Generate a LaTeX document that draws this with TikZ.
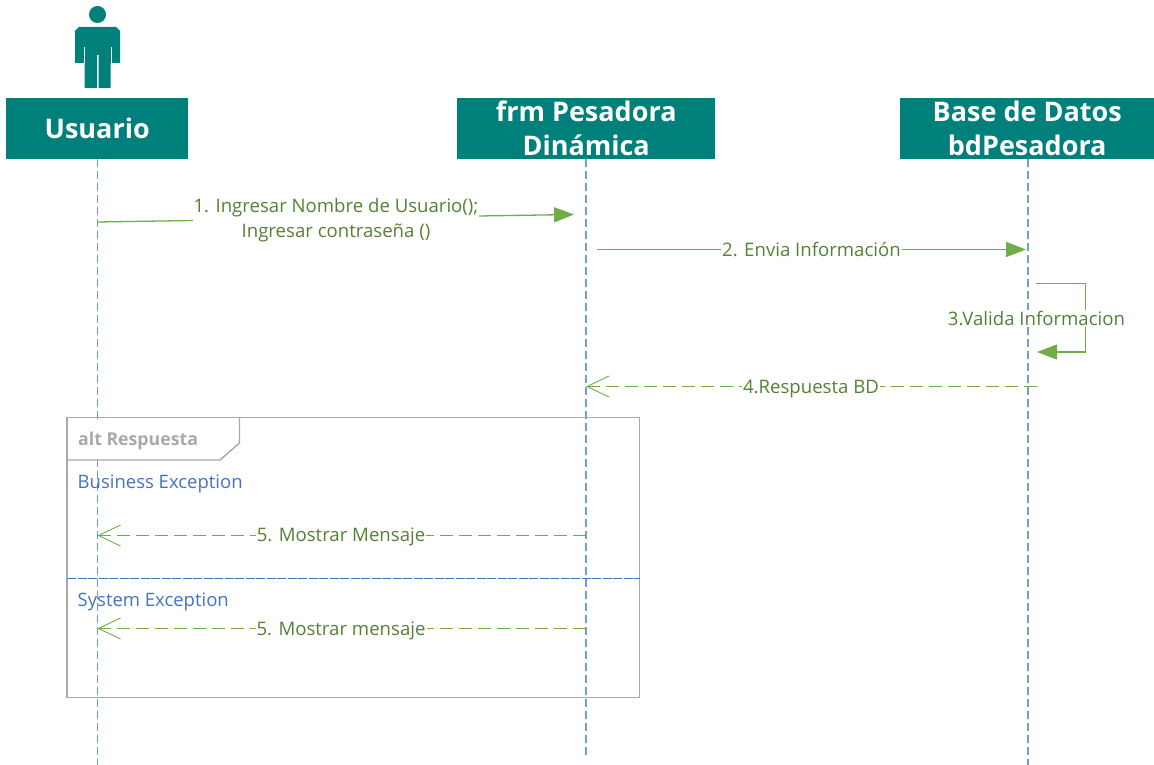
\documentclass[tikz,border=0pt]{standalone}
\usepackage{fontspec}
\setmainfont{Open Sans}
\usetikzlibrary{arrows.meta}
\definecolor{teal1}{HTML}{00807A}
\definecolor{green1}{HTML}{70AD47}
\definecolor{green2}{HTML}{548235}
\definecolor{blue1}{HTML}{4472C4}
\definecolor{life}{HTML}{6C9FD6}
\definecolor{frameg}{HTML}{A9A9A9}
\tikzset{
  head/.style={fill=teal1,text=white,font=\bfseries\fontsize{27}{34}\selectfont,align=center,inner sep=0pt,anchor=north west},
  lifeline/.style={life,line width=1.5pt,dash pattern=on 8pt off 4pt},
  msg/.style={green1,line width=1.3pt,-{Triangle[length=20pt,width=15pt,fill=green1]}},
  reply/.style={green1,line width=1.3pt,dash pattern=on 13pt off 6pt,-{Straight Barb[length=22pt,width=21pt,line width=.9pt]}},
  lab/.style={fill=white,text=green2,font=\fontsize{18.6}{25}\selectfont,inner sep=1pt,align=center},
  frame/.style={frameg,line width=1.4pt},
  cond/.style={text=blue1,font=\fontsize{18.5}{20}\selectfont,anchor=west,inner sep=0pt},
}
\begin{document}
\begin{tikzpicture}[x=1pt,y=-1pt]
\useasboundingbox (0,0) rectangle (1154,765);
% actor
\fill[teal1] (97.5,14.5) circle (8.5);
\fill[teal1] (79,27) -- (116,27) -- (120,31) -- (120,63) -- (110.5,63) -- (110.5,88) -- (98.5,88) -- (98.5,55) -- (97,55) -- (97,88) -- (84.5,88) -- (84.5,63) -- (75,63) -- (75,31) -- cycle;
\draw[white,line width=.8pt] (84,47) -- (84,63) (111,47) -- (111,63);
% heads
\node[head,minimum width=182pt,minimum height=61pt] (u) at (6,98) {Usuario};
\node[head,minimum width=258pt,minimum height=61pt] (f) at (457,98) {frm Pesadora\\Dinámica};
\node[head,minimum width=254pt,minimum height=61pt] (b) at (900,98) {Base de Datos\\bdPesadora};
% lifelines
\coordinate (ue) at (97.5,765);
\coordinate (fe) at (586,755);
\coordinate (be) at (1028,765);
\draw[lifeline] (u.south -| ue) -- (ue);
\draw[lifeline] (f.south -| fe) -- (fe);
\draw[lifeline] (b.south -| be) -- (be);
% frame
\draw[frame] (67,417.5) rectangle (639.5,697.5);
\fill[white] (68,418.5) rectangle (238,459);
\draw[frame] (67,460) -- (220,460) -- (239.5,443) -- (239.5,417.5);
\node[text=frameg,font=\bfseries\fontsize{17.7}{20}\selectfont,anchor=west,inner sep=0pt] (alt) at (78,440.5) {alt Respuesta};
\draw[blue1,line width=1.3pt,dash pattern=on 9pt off 1.5pt] (67,578.5) -- (639.5,578.5);
\node[cond] (be1) at (77.5,484) {Business Exception};
\node[cond] (se1) at (77.5,602) {System Exception};
% coordinates
\coordinate (m1a) at (97.5,222);
\coordinate (m1b) at (574,214.5);
\coordinate (m2a) at (597,249.5);
\coordinate (m2b) at (1026,249.5);
\coordinate (m3a) at (1036,283.5);
\coordinate (m3b) at (1085.5,283.5);
\coordinate (m3c) at (1085.5,352);
\coordinate (m3d) at (1037,352);
\coordinate (m4a) at (1037,386.5);
\coordinate (m4b) at (586,386.5);
\coordinate (m5a) at (586,535.5);
\coordinate (m5b) at (97.5,535.5);
\coordinate (m6a) at (586,628.5);
\coordinate (m6b) at (97.5,628.5);
% messages
\draw[msg] (m1a) -- (m1b);
\node[lab] (l1) at (336,220.5) {1. Ingresar Nombre de Usuario();\\Ingresar contraseña ()};
\draw[msg] (m2a) -- (m2b);
\node[lab] (l2) at (811.5,249.5) {2. Envia Información};
\draw[msg] (m3a) -- (m3b) -- (m3c) -- (m3d);
\node[lab] (l3) at (1036.5,318.5) {3.Valida Informacion};
\draw[reply] (m4a) -- (m4b);
\node[lab] (l4) at (811,389) {4.Respuesta BD};
\draw[reply] (m5a) -- (m5b);
\node[lab] (l5) at (341,537) {5. Mostrar Mensaje};
\draw[reply] (m6a) -- (m6b);
\node[lab] (l6) at (341,631) {5. Mostrar mensaje};
\end{tikzpicture}
\end{document}
